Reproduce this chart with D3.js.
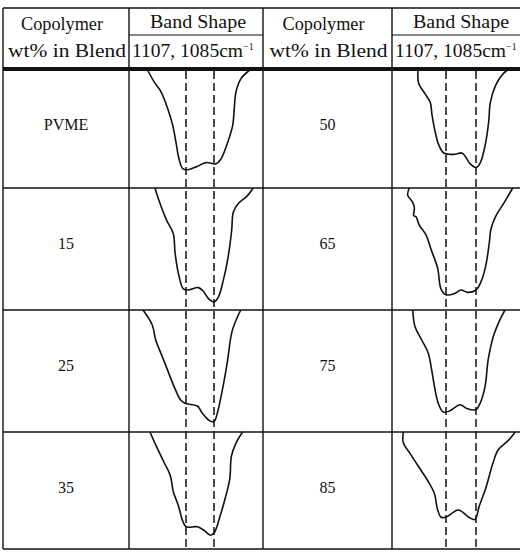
<!DOCTYPE html>
<html>
<head>
<meta charset="utf-8">
<script src="https://cdn.jsdelivr.net/npm/d3@7"></script>
<style>
  html, body { margin: 0; padding: 0; background: #fff; }
  svg { display: block; }
  text { font-family: "Liberation Serif", "DejaVu Serif", serif; fill: #111; }
</style>
</head>
<body>
<svg id="chart" width="520" height="553"></svg>
<script>
// ---------- data ----------
const headerTop = ["Copolymer", "Band Shape"];
const headerBottom = ["wt% in Blend", "1107, 1085cm"];
const headerSup = "\u22121";
const blendsLeft = ["PVME", "15", "25", "35"];
const blendsRight = ["50", "65", "75", "85"];
const markerBands = [1107, 1085]; // cm^-1, dashed reference lines

// band shapes: [wavenumber cm^-1, relative absorbance depth]
const bandPVME = [[1137.6,0],[1131.9,0.11],[1126.6,0.19],[1121.4,0.33],[1117.4,0.47],[1114.9,0.61],[1112.5,0.75],[1109.6,0.83],[1105.7,0.84],[1097.8,0.81],[1091.3,0.78],[1083.4,0.79],[1079.5,0.75],[1074.2,0.61],[1070.3,0.47],[1069.1,0.33],[1067.7,0.19],[1063.8,0.08],[1055.9,0]];
const band15 = [[1131.4,0],[1127.4,0.13],[1122.2,0.27],[1117.0,0.38],[1115.6,0.54],[1113.0,0.71],[1109.1,0.84],[1105.2,0.85],[1097.3,0.83],[1093.4,0.86],[1089.5,0.92],[1085.0,0.95],[1081.6,0.91],[1077.7,0.77],[1073.8,0.57],[1071.1,0.35],[1069.8,0.20],[1065.9,0.13],[1059.3,0.07],[1054.1,0]];
const band25 = [[1140.8,0],[1133.5,0.125],[1130.8,0.25],[1125.6,0.39],[1120.4,0.53],[1115.1,0.67],[1111.2,0.75],[1107.2,0.78],[1098.1,0.80],[1094.2,0.86],[1088.9,0.92],[1085.0,0.93],[1082.4,0.86],[1078.5,0.67],[1074.6,0.44],[1070.6,0.17],[1064.0,0]];
const band35 = [[1135.3,0],[1130.7,0.11],[1124.4,0.25],[1119.4,0.36],[1116.9,0.50],[1113.1,0.61],[1109.3,0.75],[1106.8,0.79],[1097.9,0.79],[1092.8,0.82],[1087.8,0.86],[1084.8,0.84],[1080.2,0.70],[1076.4,0.56],[1072.6,0.39],[1071.3,0.20],[1067.6,0.09],[1062.5,0]];
const band50 = [[1127.5,0],[1127.0,0.12],[1122.2,0.21],[1118.5,0.28],[1117.3,0.38],[1114.8,0.53],[1112.4,0.63],[1108.7,0.70],[1105.0,0.71],[1100.2,0.71],[1095.3,0.70],[1092.8,0.73],[1089.2,0.79],[1084.8,0.82],[1081.8,0.78],[1078.2,0.63],[1075.7,0.44],[1074.5,0.28],[1070.8,0.14],[1065.9,0.05],[1061.0,0]];
const band65 = [[1133.9,0],[1135.1,0.06],[1131.4,0.12],[1130.2,0.17],[1130.7,0.23],[1129.0,0.24],[1126.6,0.31],[1121.7,0.39],[1118.0,0.51],[1113.1,0.67],[1110.7,0.84],[1107.0,0.89],[1100.9,0.88],[1096.0,0.85],[1091.1,0.87],[1085.0,0.85],[1081.3,0.78],[1077.7,0.64],[1075.2,0.45],[1074.0,0.34],[1070.3,0.23],[1064.2,0.12],[1058.1,0]];
const band75 = [[1131.4,0],[1129.7,0.14],[1124.8,0.25],[1120.0,0.36],[1117.5,0.50],[1115.1,0.66],[1112.6,0.78],[1109.0,0.85],[1104.1,0.84],[1096.7,0.79],[1091.8,0.82],[1085.0,0.83],[1082.1,0.78],[1078.4,0.64],[1076.0,0.41],[1072.3,0.22],[1067.4,0.08],[1063.7,0]];
const band85 = [[1138.3,0],[1138.3,0.09],[1133.3,0.18],[1127.0,0.29],[1120.7,0.40],[1115.6,0.51],[1113.1,0.65],[1110.6,0.71],[1107.2,0.71],[1097.9,0.65],[1090.3,0.71],[1085.8,0.73],[1082.7,0.62],[1077.6,0.46],[1072.6,0.26],[1068.8,0.15],[1061.3,0.07],[1056.2,0]];

const bandsLeft = [bandPVME, band15, band25, band35];
const bandsRight = [band50, band65, band75, band85];

// ---------- layout ----------
const svg = d3.select("#chart");
svg.append("rect").attr("width", 520).attr("height", 553).attr("fill", "#fff");

const W = 520;
const colX = [3, 129, 263, 392];      // left edges of the four columns
const tableTop = 8, midLine = 35, headLine = 69, tableBottom = 549;
const rowTops = [69, 188, 310, 432];
const rowH = 120;

const g = svg.append("g");
const ink = "#111";

// header lines
g.append("line").attr("x1", colX[0]).attr("x2", W).attr("y1", tableTop).attr("y2", tableTop)
  .attr("stroke", ink).attr("stroke-width", 1.4);
[[colX[1], colX[2]], [colX[3], W]].forEach(([a, b]) => {
  g.append("line").attr("x1", a).attr("x2", b).attr("y1", midLine).attr("y2", midLine)
    .attr("stroke", ink).attr("stroke-width", 1.2);
});
g.append("line").attr("x1", colX[0]).attr("x2", W).attr("y1", headLine).attr("y2", headLine)
  .attr("stroke", ink).attr("stroke-width", 4);
rowTops.slice(1).forEach(y => {
  g.append("line").attr("x1", colX[0]).attr("x2", W).attr("y1", y).attr("y2", y)
    .attr("stroke", ink).attr("stroke-width", 1.3);
});
g.append("line").attr("x1", colX[0]).attr("x2", W).attr("y1", tableBottom).attr("y2", tableBottom)
  .attr("stroke", ink).attr("stroke-width", 1.4);
colX.forEach(x => {
  g.append("line").attr("x1", x).attr("x2", x).attr("y1", tableTop).attr("y2", tableBottom)
    .attr("stroke", ink).attr("stroke-width", 1.4);
});

// header text
const colW = [colX[1]-colX[0], colX[2]-colX[1], colX[3]-colX[2], 136];
[0, 2].forEach(ci => {
  g.append("text").attr("x", colX[ci] + colW[ci]/2 - 4).attr("y", 30)
    .attr("text-anchor", "middle").attr("font-size", 18)
    .attr("textLength", 82).attr("lengthAdjust", "spacingAndGlyphs").text(headerTop[0]);
  g.append("text").attr("x", colX[ci] + colW[ci]/2 + 1).attr("y", 57)
    .attr("text-anchor", "middle").attr("font-size", 18)
    .attr("textLength", 118).attr("lengthAdjust", "spacingAndGlyphs").text(headerBottom[0]);
});
[1, 3].forEach(ci => {
  g.append("text").attr("x", colX[ci] + 69).attr("y", 28)
    .attr("text-anchor", "middle").attr("font-size", 18)
    .attr("textLength", 96).attr("lengthAdjust", "spacingAndGlyphs").text(headerTop[1]);
  const t = g.append("text").attr("x", colX[ci] + 3).attr("y", 57).attr("font-size", 18);
  t.append("tspan").attr("textLength", 111).attr("lengthAdjust", "spacingAndGlyphs").text(headerBottom[1]);
  t.append("tspan").attr("dy", -7).attr("font-size", 10).text(headerSup);
});

// row labels
const labelX = [colX[0] + colW[0]/2, colX[2] + colW[2]/2];
[blendsLeft, blendsRight].forEach((labels, side) => {
  labels.forEach((lab, i) => {
    g.append("text").attr("x", labelX[side]).attr("y", rowTops[i] + 61)
      .attr("text-anchor", "middle").attr("font-size", 16).text(lab);
  });
});

// band-shape scales (wavenumber decreases to the right)
const xScales = [
  d3.scaleLinear().domain(markerBands).range([186, 214]),
  d3.scaleLinear().domain(markerBands).range([446, 476])
];

// dashed reference lines at 1107 and 1085 cm^-1
xScales.forEach(xs => {
  markerBands.forEach(wn => {
    g.append("line").attr("x1", xs(wn)).attr("x2", xs(wn))
      .attr("y1", headLine + 2).attr("y2", tableBottom)
      .attr("stroke", ink).attr("stroke-width", 1.5)
      .attr("stroke-dasharray", "8,4");
  });
});

// band curves
[bandsLeft, bandsRight].forEach((bands, side) => {
  const xs = xScales[side];
  bands.forEach((pts, i) => {
    const ys = d3.scaleLinear().domain([0, 1]).range([rowTops[i], rowTops[i] + rowH]);
    const line = d3.line().x(d => xs(d[0])).y(d => ys(d[1]))
      .curve(d3.curveCatmullRom.alpha(0.5));
    g.append("path").attr("d", line(pts)).attr("fill", "none")
      .attr("stroke", ink).attr("stroke-width", 1.6).attr("stroke-linejoin", "round");
  });
});
</script>
</body>
</html>
